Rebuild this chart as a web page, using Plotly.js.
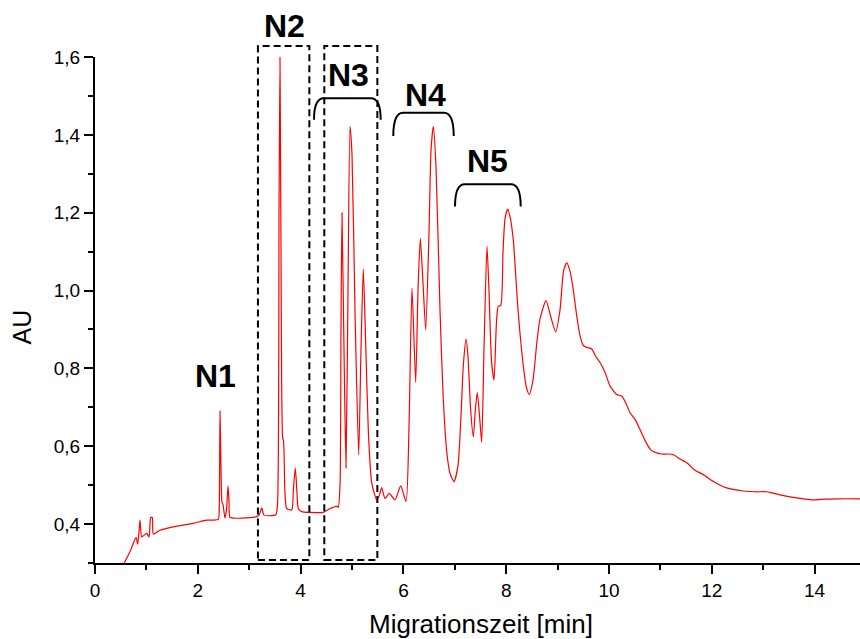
<!DOCTYPE html>
<html>
<head>
<meta charset="utf-8">
<script src="https://cdn.plot.ly/plotly-3.0.1.min.js"></script>
<style>
  html, body { margin: 0; padding: 0; background: #ffffff; }
  #chart { width: 860px; height: 639px; }
</style>
</head>
<body>
<div id="chart"></div>
<script>
// Electropherogram: absorbance (AU) over migration time (min)
const time = [
  0.55, 0.70, 0.798, 0.831, 0.856, 0.875, 0.909, 0.959, 1.006, 1.051,
  1.070, 1.084, 1.115, 1.134, 1.265, 1.523, 1.912, 2.173, 2.302, 2.399,
  2.418, 2.432, 2.451, 2.471, 2.49, 2.529, 2.56, 2.588, 2.607, 2.626,
  2.72, 3.146, 3.2, 3.243, 3.288, 3.516, 3.55, 3.58, 3.599, 3.619,
  3.652, 3.667, 3.696, 3.729, 3.827, 3.86, 3.897, 3.93, 3.955, 4.021,
  4.183, 4.442, 4.572, 4.636, 4.702, 4.733, 4.767, 4.786, 4.805, 4.844,
  4.883, 4.922, 4.961, 5.0, 5.058, 5.130, 5.175, 5.220, 5.263, 5.319,
  5.385, 5.481, 5.535, 5.577, 5.642, 5.726, 5.837, 5.947, 6.051, 6.109,
  6.167, 6.239, 6.284, 6.329, 6.381, 6.434, 6.498, 6.537, 6.582, 6.634,
  6.712, 6.776, 6.848, 6.907, 6.984, 7.062, 7.121, 7.165, 7.218, 7.257,
  7.305, 7.360, 7.403, 7.438, 7.480, 7.523, 7.568, 7.626, 7.665, 7.714,
  7.763, 7.811, 7.846, 7.893, 7.938, 7.977, 8.029, 8.074, 8.138, 8.230,
  8.333, 8.395, 8.449, 8.521, 8.599, 8.658, 8.774, 8.872, 8.963, 9.047,
  9.115, 9.177, 9.241, 9.305, 9.377, 9.436, 9.494, 9.566, 9.663, 9.747,
  9.825, 9.922, 10.019, 10.150, 10.247, 10.331, 10.409, 10.506, 10.603, 10.720,
  10.817, 10.928, 11.031, 11.148, 11.251, 11.381, 11.521, 11.673, 11.835, 12.023,
  12.224, 12.412, 12.613, 12.840, 13.068, 13.171, 13.327, 13.521, 13.716, 13.975,
  14.202, 14.430, 14.883
];
const absorbance = [
  0.295, 0.335, 0.366, 0.348, 0.38, 0.41, 0.367, 0.372, 0.376, 0.367,
  0.40, 0.417, 0.417, 0.374, 0.384, 0.393, 0.402, 0.41, 0.41, 0.412,
  0.45, 0.690, 0.55, 0.455, 0.45, 0.415, 0.44, 0.498, 0.46, 0.417,
  0.415, 0.419, 0.425, 0.442, 0.423, 0.424, 0.45, 1.2, 1.60, 1.1,
  0.62, 0.615, 0.48, 0.44, 0.436, 0.49, 0.544, 0.48, 0.44, 0.432,
  0.430, 0.430, 0.44, 0.443, 0.446, 0.443, 0.50, 0.9, 1.20, 0.85,
  0.544, 1.0, 1.422, 1.35, 0.95, 0.578, 0.85, 1.055, 0.88, 0.634,
  0.505, 0.462, 0.475, 0.494, 0.466, 0.479, 0.462, 0.498, 0.458, 0.65,
  1.006, 0.764, 1.0, 1.134, 1.02, 0.899, 1.15, 1.36, 1.422, 1.32,
  0.95, 0.720, 0.58, 0.53, 0.509, 0.55, 0.68, 0.806, 0.875, 0.83,
  0.70, 0.624, 0.70, 0.738, 0.68, 0.610, 0.85, 1.114, 1.0, 0.82,
  0.770, 0.92, 0.960, 0.961, 1.1, 1.185, 1.209, 1.19, 1.130, 0.95,
  0.806, 0.75, 0.733, 0.77, 0.87, 0.927, 0.974, 0.93, 0.894, 0.95,
  1.05, 1.071, 1.05, 1.002, 0.93, 0.884, 0.86, 0.854, 0.850, 0.83,
  0.815, 0.79, 0.755, 0.733, 0.729, 0.71, 0.686, 0.669, 0.643, 0.61,
  0.59, 0.583, 0.580, 0.580, 0.578, 0.567, 0.557, 0.538, 0.527, 0.51,
  0.496, 0.489, 0.485, 0.483, 0.483, 0.480, 0.475, 0.470, 0.466, 0.462,
  0.464, 0.465, 0.465
];

// Axis ranges and tick labels
const xRange = [0, 14.883];
const yRange = [0.3, 1.6];
const xTickVals = [0, 2, 4, 6, 8, 10, 12, 14];
const xTickText = ['0', '2', '4', '6', '8', '10', '12', '14'];
const yTickVals = [0.4, 0.6, 0.8, 1.0, 1.2, 1.4, 1.6];
const yTickText = ['0,4', '0,6', '0,8', '1,0', '1,2', '1,4', '1,6'];

// Fraction windows (dashed boxes), in minutes / AU
const boxNames = ['N2', 'N3'];
const boxStart = [3.17, 4.461];
const boxEnd = [4.17, 5.493];
const boxBottom = 0.3078;
const boxTop = 1.628;

// Peak-group brackets
const bracketNames = ['N3', 'N4', 'N5'];
const bracketStart = [4.261, 5.803, 7.004];
const bracketEnd = [5.558, 6.979, 8.282];
const bracketTop = [1.494, 1.457, 1.273];
const bracketFoot = [1.439, 1.397, 1.216];

// Group labels: [text, time (min), vertical position on the paper]
const labelText = ['N1', 'N2', 'N3', 'N4', 'N5'];
const labelX = [2.344, 3.677, 4.938, 6.436, 7.642];
const labelY = [0.3686, 1.0613, 0.9644, 0.9255, 0.7939];

const toPaperX = x => (x - xRange[0]) / (xRange[1] - xRange[0]);
const toPaperY = y => (y - yRange[0]) / (yRange[1] - yRange[0]);

const shapes = [];
for (let i = 0; i < boxNames.length; i++) {
  shapes.push({
    type: 'rect', xref: 'paper', yref: 'paper',
    x0: toPaperX(boxStart[i]), x1: toPaperX(boxEnd[i]),
    y0: toPaperY(boxBottom), y1: toPaperY(boxTop),
    line: { color: '#000000', width: 2, dash: '7px,4px' },
    fillcolor: 'rgba(0,0,0,0)', layer: 'above'
  });
}
const rx = 0.19; // corner curvature, minutes
for (let i = 0; i < bracketNames.length; i++) {
  const x0 = bracketStart[i], x1 = bracketEnd[i];
  const yt = bracketTop[i], yb = bracketFoot[i];
  shapes.push({
    type: 'path', xref: 'x', yref: 'y',
    path: `M ${x0},${yb} Q ${x0},${yt} ${x0 + rx},${yt} L ${x1 - rx},${yt} Q ${x1},${yt} ${x1},${yb}`,
    line: { color: '#000000', width: 2 }, layer: 'above'
  });
}

const annotations = labelText.map((t, i) => ({
  text: t, xref: 'x', yref: 'paper', x: labelX[i], y: labelY[i],
  xanchor: 'center', yanchor: 'middle', showarrow: false,
  font: { family: 'Liberation Sans, Arial, sans-serif', size: 32, color: '#000000', weight: 'bold' }
}));
annotations.push({
  text: 'AU', xref: 'paper', yref: 'paper', x: -0.0958, y: 0.467,
  xanchor: 'center', yanchor: 'middle', textangle: -90, showarrow: false,
  font: { family: 'Liberation Sans, Arial, sans-serif', size: 25, color: '#000000' }
});
annotations.push({
  text: 'Migrationszeit [min]', xref: 'paper', yref: 'paper', x: 0.5046, y: -0.12,
  xanchor: 'center', yanchor: 'middle', showarrow: false,
  font: { family: 'Liberation Sans, Arial, sans-serif', size: 26, color: '#000000' }
});

const trace = {
  x: time, y: absorbance, type: 'scatter', mode: 'lines',
  line: { color: '#ff0000', width: 1.2, shape: 'spline', smoothing: 0.6 },
  hoverinfo: 'skip'
};

const axisFont = { family: 'Liberation Sans, Arial, sans-serif', size: 19, color: '#000000' };

const layout = {
  width: 860, height: 639,
  margin: { l: 95, r: 0, t: 57, b: 76, pad: 0 },
  paper_bgcolor: '#ffffff', plot_bgcolor: '#ffffff',
  showlegend: false,
  separators: ',.',
  xaxis: {
    range: xRange, showgrid: false, zeroline: false,
    showline: true, linecolor: '#000000', linewidth: 2, mirror: false,
    ticks: 'outside', ticklen: 9, tickwidth: 2, tickcolor: '#000000',
    tickmode: 'array', tickvals: xTickVals, ticktext: xTickText,
    minor: { ticks: 'outside', ticklen: 5, tickwidth: 2, tickcolor: '#000000', dtick: 1, tick0: 0, showgrid: false },
    tickfont: axisFont
  },
  yaxis: {
    range: yRange, showgrid: false, zeroline: false,
    showline: true, linecolor: '#000000', linewidth: 2, mirror: false,
    ticks: 'outside', ticklen: 9, tickwidth: 2, tickcolor: '#000000',
    tickmode: 'array', tickvals: yTickVals, ticktext: yTickText,
    minor: { ticks: 'outside', ticklen: 5, tickwidth: 2, tickcolor: '#000000', dtick: 0.1, tick0: 0, showgrid: false },
    tickfont: axisFont
  },
  shapes: shapes,
  annotations: annotations
};

Plotly.newPlot('chart', [trace], layout, { displayModeBar: false, staticPlot: true });
</script>
</body>
</html>
